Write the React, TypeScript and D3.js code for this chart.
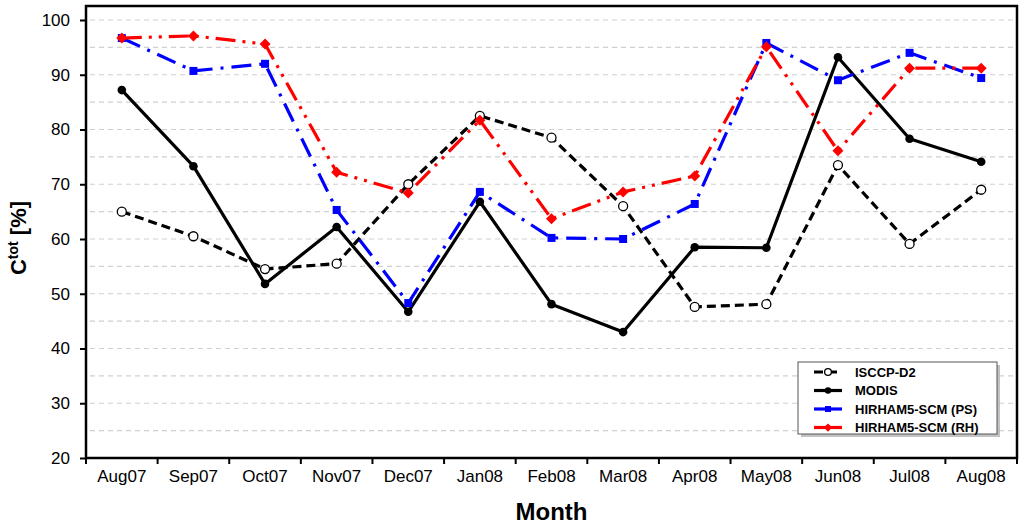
import React, { useEffect, useRef } from "react";
import * as d3 from "d3";

const months = [
  "Aug07", "Sep07", "Oct07", "Nov07", "Dec07", "Jan08", "Feb08",
  "Mar08", "Apr08", "May08", "Jun08", "Jul08", "Aug08",
];

const isccp = [65, 60.5, 54.5, 55.5, 70, 82.5, 78.5, 66, 47.6, 48.1, 73.5, 59.1, 69];
const modis = [87.2, 73.3, 51.8, 62.2, 46.7, 66.8, 48.1, 43, 58.5, 58.4, 93.2, 78.3, 74.1];
const hirhamPS = [96.7, 90.7, 92, 65.3, 48.3, 68.6, 60.2, 60, 66.4, 95.8, 89, 94, 89.4];
const hirhamRH = [96.7, 97.1, 95.6, 72.2, 68.4, 81.7, 63.7, 68.6, 71.5, 95.1, 76.1, 91.2, 91.2];

const yTicks = [20, 30, 40, 50, 60, 70, 80, 90, 100];
const gridValues = [25, 30, 35, 40, 45, 50, 55, 60, 65, 70, 75, 80, 85, 90, 95, 100];

type Marker = "openCircle" | "circle" | "square" | "diamond";

interface Series {
  name: string;
  values: number[];
  color: string;
  dash: string;
  marker: Marker;
}

const series: Series[] = [
  { name: "ISCCP-D2", values: isccp, color: "#000", dash: "9,5", marker: "openCircle" },
  { name: "MODIS", values: modis, color: "#000", dash: "none", marker: "circle" },
  { name: "HIRHAM5-SCM (PS)", values: hirhamPS, color: "#0000ff", dash: "20,8,3,8", marker: "square" },
  { name: "HIRHAM5-SCM (RH)", values: hirhamRH, color: "#ff0000", dash: "20,7,3,7,3,7", marker: "diamond" },
];

const W = 1024;
const H = 528;
const FONT = "Liberation Sans, Arial, sans-serif";

function drawMarker(g: d3.Selection<SVGGElement, unknown, null, undefined>, m: Marker, color: string, x: number, y: number, scale = 1) {
  if (m === "openCircle") {
    g.append("circle").attr("cx", x).attr("cy", y).attr("r", 4.5 * scale)
      .attr("fill", "#fff").attr("stroke", color).attr("stroke-width", 1.3);
  } else if (m === "circle") {
    g.append("circle").attr("cx", x).attr("cy", y).attr("r", 4.3 * scale).attr("fill", color);
  } else if (m === "square") {
    const s = 8 * scale;
    g.append("rect").attr("x", x - s / 2).attr("y", y - s / 2).attr("width", s).attr("height", s).attr("fill", color);
  } else {
    const s = 5.5 * scale;
    g.append("path").attr("d", `M${x},${y - s}L${x + s},${y}L${x},${y + s}L${x - s},${y}Z`).attr("fill", color);
  }
}

const App: React.FC = () => {
  const svgRef = useRef<SVGSVGElement | null>(null);

  useEffect(() => {
    if (!svgRef.current) return;
    const svg = d3.select(svgRef.current);
    svg.selectAll("*").remove();

    const left = 86, right = 1017, top = 6, bottom = 458;

    const x = d3.scaleBand<string>().domain(months).range([left, right]);
    const y = d3.scaleLinear().domain([20, 100]).range([bottom, 20]);
    const cx = (m: string) => (x(m) as number) + x.bandwidth() / 2;

    svg.append("rect").attr("width", W).attr("height", H).attr("fill", "#fff");

    // grid
    svg.append("g").selectAll("line").data(gridValues).join("line")
      .attr("x1", left + 4).attr("x2", right - 4)
      .attr("y1", (d) => y(d)).attr("y2", (d) => y(d))
      .attr("stroke", "#d0d0d0").attr("stroke-width", 1.2).attr("stroke-dasharray", "5,4");

    // frame
    svg.append("rect").attr("x", left).attr("y", top).attr("width", right - left).attr("height", bottom - top)
      .attr("fill", "none").attr("stroke", "#000").attr("stroke-width", 2.5);

    // y axis ticks
    const yAxis = d3.axisLeft(y).tickValues(yTicks).tickSize(6).tickPadding(10).tickFormat(d3.format("d"));
    const yg = svg.append("g").attr("transform", `translate(${left},0)`).call(yAxis);
    yg.select(".domain").remove();
    yg.selectAll("line").attr("stroke", "#000").attr("stroke-width", 2);
    yg.selectAll("text").attr("font-family", FONT).attr("font-size", 17).attr("fill", "#000");

    // x axis ticks at band edges
    const xEdges = months.map((m) => x(m) as number).concat([right]);
    svg.append("g").selectAll("line").data(xEdges).join("line")
      .attr("x1", (d) => d).attr("x2", (d) => d).attr("y1", bottom).attr("y2", bottom + 6)
      .attr("stroke", "#000").attr("stroke-width", 2);
    svg.append("g").selectAll("text").data(months).join("text")
      .attr("x", (d) => cx(d)).attr("y", bottom + 24)
      .attr("text-anchor", "middle")
      .attr("font-family", FONT)
      .attr("font-size", 17).attr("fill", "#000")
      .text((d) => d);

    // axis titles
    svg.append("text").attr("x", (left + right) / 2).attr("y", 520).attr("text-anchor", "middle")
      .attr("font-family", "Liberation Sans Narrow, Arial Narrow, sans-serif").attr("font-weight", "bold")
      .attr("font-size", 24).text("Month");
    const yt = svg.append("text").attr("transform", `translate(26,${(top + bottom) / 2 + 6}) rotate(-90)`)
      .attr("text-anchor", "middle").attr("font-family", FONT)
      .attr("font-weight", "bold").attr("font-size", 22);
    yt.append("tspan").text("C");
    yt.append("tspan").attr("font-size", 14).attr("dy", -8).text("tot");
    yt.append("tspan").attr("dy", 8).text(" [%]");

    // series
    series.forEach((s) => {
      const line = d3.line<number>().x((_, i) => cx(months[i])).y((d) => y(d));
      svg.append("path").datum(s.values).attr("d", line).attr("fill", "none")
        .attr("stroke", s.color).attr("stroke-width", 3.2).attr("stroke-dasharray", s.dash)
        .attr("stroke-linejoin", "round");
      const mg = svg.append("g");
      s.values.forEach((v, i) => drawMarker(mg, s.marker, s.color, cx(months[i]), y(v)));
    });

    // legend
    const lx = 798, ly = 362, lw = 199, lh = 72;
    svg.append("rect").attr("x", lx + 3).attr("y", ly + 3).attr("width", lw).attr("height", lh).attr("fill", "#999").attr("opacity", 0.6);
    svg.append("rect").attr("x", lx).attr("y", ly).attr("width", lw).attr("height", lh)
      .attr("fill", "#fff").attr("stroke", "#555").attr("stroke-width", 1);
    series.forEach((s, i) => {
      const ry = ly + 10 + i * 18.5;
      const g = svg.append("g");
      g.append("line").attr("x1", lx + 16).attr("x2", lx + 44).attr("y1", ry).attr("y2", ry)
        .attr("stroke", s.color).attr("stroke-width", 3.2)
        .attr("stroke-dasharray", s.marker === "openCircle" ? "9,5" : "none");
      drawMarker(g, s.marker, s.color, lx + 30, ry, 0.75);
      g.append("text").attr("x", lx + 57).attr("y", ry + 4.5)
        .attr("font-family", FONT).attr("font-weight", "bold")
        .attr("font-size", 13).text(s.name);
    });
  }, []);

  return (
    <div style={{ position: "absolute", left: 0, top: 0 }}>
      <svg ref={svgRef} width={W} height={H} style={{ display: "block" }} />
    </div>
  );
};

export default App;
